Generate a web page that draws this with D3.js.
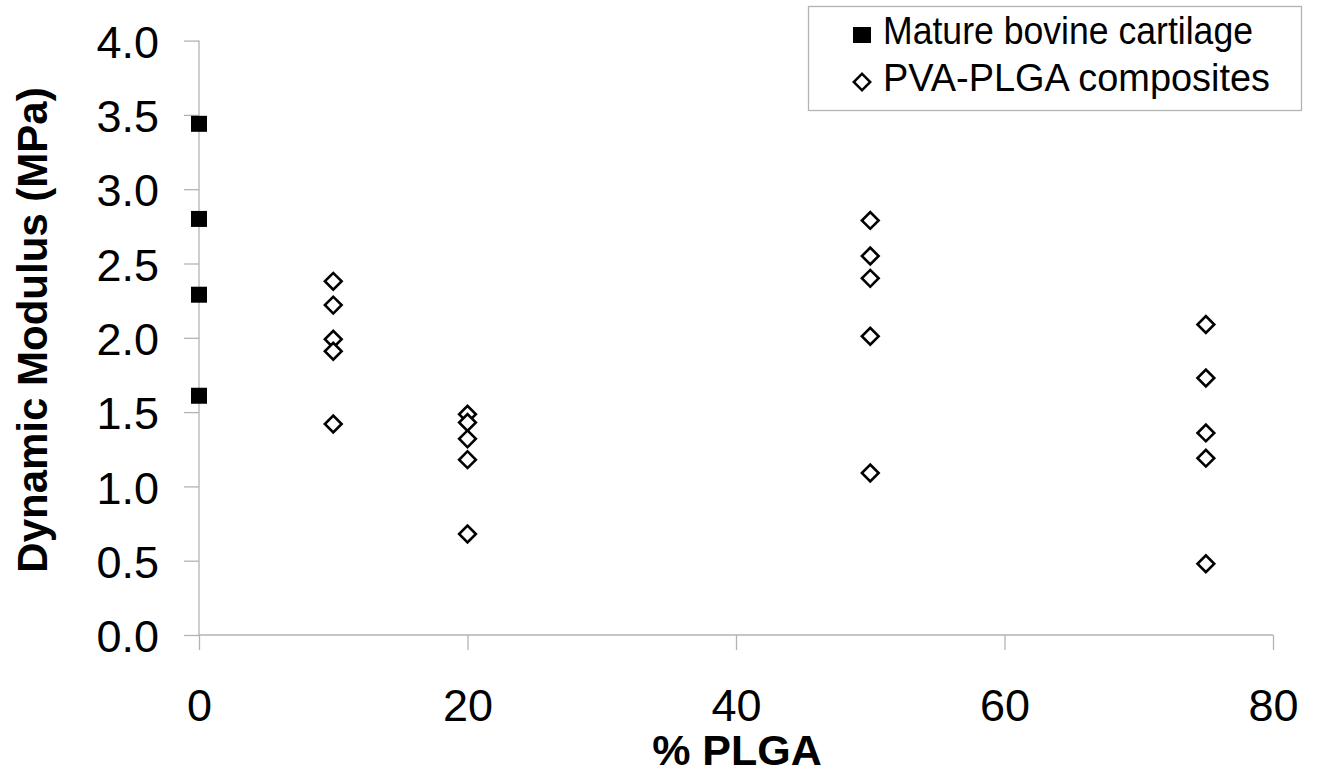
<!DOCTYPE html>
<html><head><meta charset="utf-8">
<script src="https://cdn.jsdelivr.net/npm/d3@7"></script>
<style>body{margin:0;background:#fff}svg{display:block}text{font-family:"Liberation Sans",Arial,sans-serif}</style>
</head><body>
<script>
const cartilageX = [0, 0, 0, 0];
const cartilageY = [3.44, 2.80, 2.29, 1.61];
const compositeX = [10,10,10,10,10, 20,20,20,20,20, 50,50,50,50,50, 75,75,75,75,75];
const compositeY = [2.38,2.22,1.99,1.91,1.42, 1.485,1.43,1.32,1.18,0.68, 2.79,2.55,2.40,2.01,1.09, 2.09,1.73,1.36,1.19,0.48];
const xTicks = [0,20,40,60,80];
const yTicks = [0,0.5,1,1.5,2,2.5,3,3.5,4];
const seriesNames = ["Mature bovine cartilage","PVA-PLGA composites"];

const W=1324,H=776;
const svg=d3.select("body").append("svg").attr("width",W).attr("height",H);
const x=d3.scaleLinear().domain([0,80]).range([199,1273]);
const y=d3.scaleLinear().domain([0,4]).range([635,40.6]);
const axisColor="#b3b3b3";

const gx=svg.append("g").attr("transform","translate(0,635)")
  .call(d3.axisBottom(x).tickValues(xTicks).tickSize(15).tickFormat(d3.format("d")));
const gy=svg.append("g").attr("transform","translate(199,0)")
  .call(d3.axisLeft(y).tickValues(yTicks).tickSize(15).tickFormat(d3.format(".1f")));
[gx,gy].forEach(g=>{
  g.select(".domain").attr("stroke",axisColor).attr("stroke-width",1.3);
  g.selectAll(".tick line").attr("stroke",axisColor).attr("stroke-width",1.3);
  g.selectAll(".tick text").attr("fill","#000").style("font-size","45px").style("font-family","'Liberation Sans',Arial,sans-serif");
});
gy.select(".domain").attr("d",`M0,${y(4)}V${y(0)}`);
gx.select(".domain").attr("d",`M${x(0)},0H${x(80)}`);
gy.selectAll(".tick text").attr("x",-40).attr("dy","0.37em");
gx.selectAll(".tick text").attr("y",86).attr("dy","0");

// points
const cart=d3.range(cartilageX.length).map(i=>({x:cartilageX[i],y:cartilageY[i]}));
const comp=d3.range(compositeX.length).map(i=>({x:compositeX[i],y:compositeY[i]}));
svg.append("g").selectAll("rect").data(cart).join("rect")
  .attr("x",d=>x(d.x)-8).attr("y",d=>y(d.y)-8).attr("width",16).attr("height",16).attr("fill","#000");
const dia=d3.symbol().type(d3.symbolSquare).size(140);
svg.append("g").selectAll("path").data(comp).join("path")
  .attr("d",dia).attr("transform",d=>`translate(${x(d.x)},${y(d.y)}) rotate(45)`)
  .attr("fill","#fff").attr("stroke","#000").attr("stroke-width",2.6);

// titles
svg.append("text").attr("x",737).attr("y",765).attr("text-anchor","middle")
  .style("font-size","43px").style("font-weight","bold").text("% PLGA");
svg.append("text").attr("transform","translate(47,330) rotate(-90)").attr("text-anchor","middle")
  .style("font-size","42px").style("font-weight","bold").text("Dynamic Modulus (MPa)");

// legend
const lg=svg.append("g");
lg.append("rect").attr("x",808.5).attr("y",6.5).attr("width",493).attr("height",104)
  .attr("fill","#fff").attr("stroke",axisColor).attr("stroke-width",1.3);
lg.append("rect").attr("x",853).attr("y",27).attr("width",18).attr("height",16).attr("fill","#000");
lg.append("path").attr("d",d3.symbol().type(d3.symbolSquare).size(135))
  .attr("transform","translate(862,82) rotate(45)").attr("fill","#fff").attr("stroke","#000").attr("stroke-width",2.5);
lg.append("text").attr("x",883).attr("y",44).attr("textLength",370).attr("lengthAdjust","spacingAndGlyphs").style("font-size","38px").text(seriesNames[0]);
lg.append("text").attr("x",883).attr("y",91).attr("textLength",387).attr("lengthAdjust","spacingAndGlyphs").style("font-size","38px").text(seriesNames[1]);
</script>
</body></html>
